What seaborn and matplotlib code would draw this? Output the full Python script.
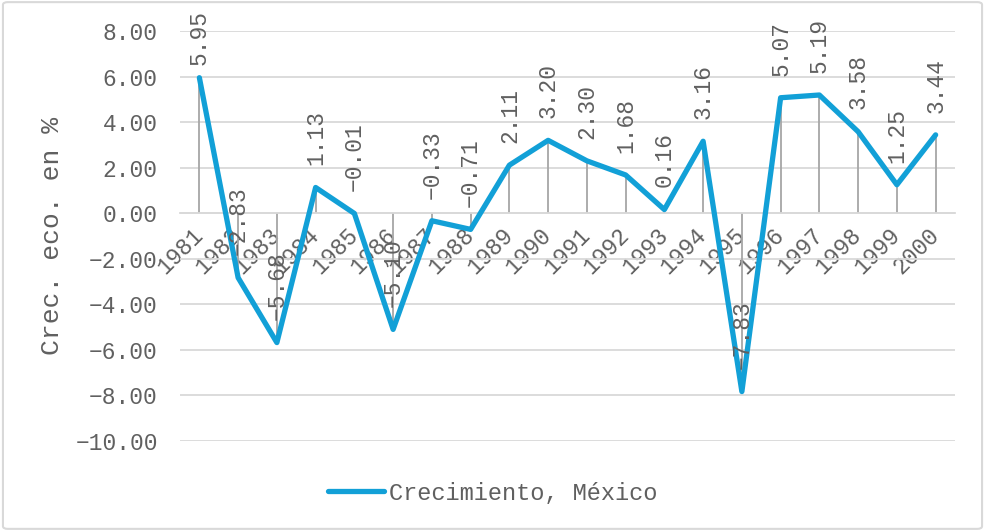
import matplotlib.pyplot as plt
import numpy as np
import pandas as pd
import seaborn as sns
from matplotlib.patches import FancyBboxPatch

# datos
anios = ["1981", "1982", "1983", "1984", "1985", "1986", "1987", "1988", "1989", "1990",
         "1991", "1992", "1993", "1994", "1995", "1996", "1997", "1998", "1999", "2000"]
crecimiento = [5.95, -2.83, -5.68, 1.13, -0.01, -5.10, -0.33, -0.71, 2.11, 3.20,
               2.30, 1.68, 0.16, 3.16, -7.83, 5.07, 5.19, 3.58, 1.25, 3.44]
y_ticks = [-10, -8, -6, -4, -2, 0, 2, 4, 6, 8]
serie = "Crecimiento, México"


def minus(s: str) -> str:
    return s.replace("-", "\u2212")


def main():
    sns.set_theme(style="white")
    plt.rcParams['font.family'] = ['Liberation Mono', 'DejaVu Sans Mono']
    gris = "#606060"

    df = pd.DataFrame({"pos": np.arange(len(anios)), "crec": crecimiento})

    fig = plt.figure(figsize=(9.85, 5.31), dpi=100)
    ax = fig.add_axes([180 / 985, 1 - 441 / 531, 775 / 985, 410 / 531])

    ax.set_xlim(-0.5, len(anios) - 0.5)
    ax.set_ylim(-10, 8)

    # lineas de caida hacia cero
    ax.vlines(df["pos"], 0, df["crec"], color="#A6A6A6", lw=1.3, zorder=2)
    sns.lineplot(data=df, x="pos", y="crec", ax=ax, color="#12A0D7", lw=3.8,
                 label=serie, zorder=3, legend=False)

    # etiquetas de datos, sin salirse del borde superior
    alto_fig = fig.bbox.height
    for x, v in zip(df["pos"], df["crec"]):
        texto = minus(f"{v:.2f}")
        y_px = ax.transData.transform((x, v))[1]
        libre = (alto_fig - y_px - len(texto) * 13.8 - 10) / (fig.dpi / 72)
        off = max(4, min(16, libre))
        ax.annotate(texto, xy=(x, v), xytext=(0, off), textcoords="offset points",
                    rotation=90, ha="center", va="bottom", fontsize=16.5, color=gris, zorder=4)

    ax.set_yticks(y_ticks, [minus(f"{t:.2f}") for t in y_ticks])
    ax.set_xticks(df["pos"], anios)
    ax.set_xlim(-0.5, len(anios) - 0.5)
    ax.set_ylim(-10, 8)
    ax.grid(axis="y", color="#D9D9D9", lw=1.3)
    ax.grid(axis="x", visible=False)
    for s in ["top", "right", "left"]:
        ax.spines[s].set_visible(False)
    ax.spines["bottom"].set_position(("data", 0))
    ax.spines["bottom"].set_color("#D9D9D9")
    ax.spines["bottom"].set_linewidth(1.3)
    ax.tick_params(axis="y", length=0, pad=16, labelsize=16.5, labelcolor=gris)
    ax.tick_params(axis="x", length=0, pad=13, labelsize=16.5, labelcolor=gris)
    for lbl in ax.get_xticklabels():
        lbl.set_rotation(45)
        lbl.set_ha("right")
        lbl.set_va("center")
        lbl.set_rotation_mode("anchor")

    ax.set_xlabel("")
    ax.set_ylabel("Crec. eco. en %", fontsize=19, color=gris)
    ax.yaxis.set_label_coords(-0.15, 0.5)

    handles, labels = ax.get_legend_handles_labels()
    fig.legend(handles, labels, loc="center", bbox_to_anchor=(0.5, 1 - 493 / 531),
               frameon=False, fontsize=17, handlelength=2.4, handletextpad=0.2,
               labelcolor=gris)

    borde = FancyBboxPatch((0.003, 0.004), 0.994, 0.992, boxstyle="round,pad=0,rounding_size=0.005",
                           transform=fig.transFigure, fill=False, edgecolor="#D9D9D9", lw=1.5)
    fig.patches.append(borde)

    fig.savefig("out.png", dpi=100)


if __name__ == "__main__":
    main()
